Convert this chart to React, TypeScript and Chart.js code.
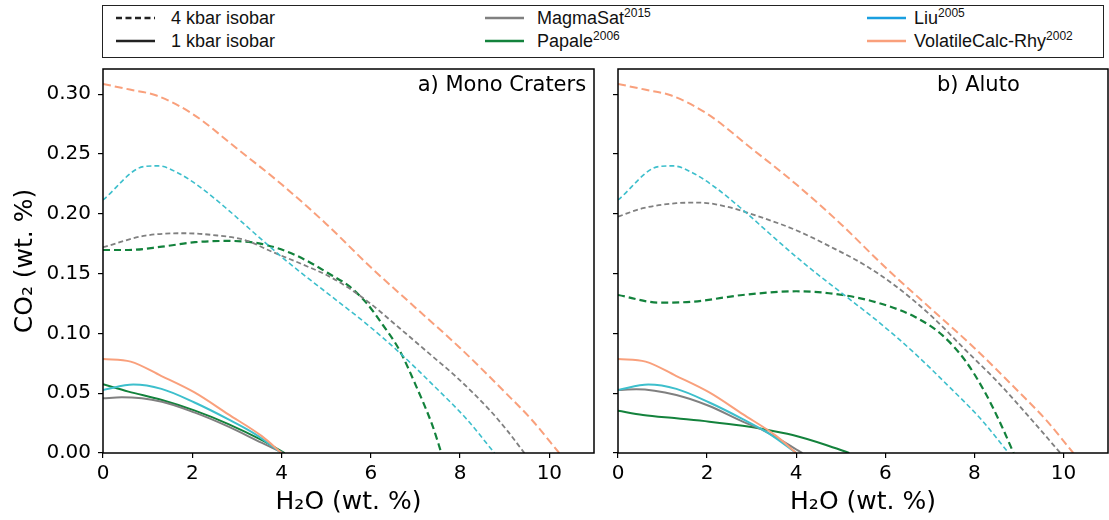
import React, { useEffect, useRef } from 'react';
import { Chart, registerables } from 'chart.js';

Chart.register(...registerables);

// Axis ticks
const h2oTicks = [0, 2, 4, 6, 8, 10];
const co2Ticks = [0, 0.05, 0.1, 0.15, 0.2, 0.25, 0.3];
const h2oMax = 11;
const co2Max = 0.321;

// VolatileCalc-Rhy (same isobars for both localities)
const vcH2O_4kbar = [0, 0.6, 1.2, 2.0, 3.0, 4.0, 5.0, 6.0, 7.0, 8.0, 9.0, 9.6, 10.22];
const vcCO2_4kbar = [0.3085, 0.3038, 0.2988, 0.2836, 0.2545, 0.2246, 0.1915, 0.1552, 0.1215, 0.0878, 0.051, 0.028, 0];
const vcH2O_1kbar = [0, 0.62, 1.3, 2.05, 2.8, 3.55, 4.0];
const vcCO2_1kbar = [0.0786, 0.0764, 0.0645, 0.0506, 0.0325, 0.0143, 0];

// Liu (same isobars for both localities)
const liuH2O_4kbar = [0, 0.91, 1.24, 1.69, 2.21, 2.81, 3.4, 4.0, 4.41, 5.15, 5.9, 6.64, 7.39, 8.13, 8.77];
const liuCO2_4kbar = [0.2115, 0.2394, 0.24, 0.2339, 0.2213, 0.203, 0.1835, 0.164, 0.1515, 0.13, 0.108, 0.084, 0.057, 0.029, 0];
const liuH2O_1kbar = [0, 0.68, 1.31, 2.05, 2.8, 3.4, 4.0];
const liuCO2_1kbar = [0.0527, 0.0572, 0.0536, 0.0422, 0.0283, 0.016, 0];

// Mono Craters: MagmaSat
const monoMsH2O_4kbar = [0, 0.95, 1.84, 2.44, 3.18, 3.78, 4.41, 5.15, 5.9, 6.64, 7.39, 7.91, 8.66, 9.05, 9.44];
const monoMsCO2_4kbar = [0.172, 0.1817, 0.1837, 0.1823, 0.178, 0.1683, 0.1586, 0.146, 0.1275, 0.1045, 0.0805, 0.0638, 0.036, 0.019, 0];
const monoMsH2O_1kbar = [0, 0.42, 1.32, 2.06, 2.81, 3.55, 4.04];
const monoMsCO2_1kbar = [0.0457, 0.0466, 0.0429, 0.0337, 0.022, 0.0086, 0];

// Mono Craters: Papale
const monoPapH2O_4kbar = [0, 0.57, 1.32, 2.06, 2.81, 3.55, 4.3, 5.15, 5.53, 5.9, 6.27, 6.64, 7.02, 7.39, 7.58];
const monoPapCO2_4kbar = [0.1697, 0.1697, 0.1725, 0.1762, 0.1773, 0.1748, 0.1656, 0.148, 0.139, 0.1255, 0.107, 0.0861, 0.0555, 0.022, 0];
const monoPapH2O_1kbar = [0, 0.57, 1.32, 2.06, 2.81, 3.55, 4.07];
const monoPapCO2_1kbar = [0.0574, 0.0513, 0.0443, 0.0354, 0.0242, 0.0109, 0];

// Aluto: MagmaSat
const alutoMsH2O_4kbar = [0, 0.56, 1.31, 1.83, 2.43, 3.17, 4.0, 4.9, 5.5, 6.2, 7.05, 7.8, 8.55, 9.29, 9.93];
const alutoMsCO2_4kbar = [0.1976, 0.2046, 0.2088, 0.2093, 0.206, 0.1976, 0.1862, 0.17, 0.158, 0.1405, 0.114, 0.0861, 0.0583, 0.0276, 0];
const alutoMsH2O_1kbar = [0, 0.41, 1.31, 2.05, 2.8, 3.25, 3.55, 4.14];
const alutoMsCO2_1kbar = [0.0527, 0.0532, 0.0485, 0.0393, 0.0262, 0.0192, 0.013, 0];

// Aluto: Papale
const alutoPapH2O_4kbar = [0, 0.93, 1.68, 2.8, 4.0, 5.04, 5.93, 6.68, 7.28, 7.8, 8.25, 8.62, 8.88];
const alutoPapCO2_4kbar = [0.1321, 0.1257, 0.1265, 0.1321, 0.1352, 0.1321, 0.1245, 0.1135, 0.0985, 0.077, 0.0499, 0.022, 0];
const alutoPapH2O_1kbar = [0, 0.56, 1.31, 2.05, 2.8, 3.25, 3.92, 4.67, 5.19];
const alutoPapCO2_1kbar = [0.0354, 0.0318, 0.029, 0.0262, 0.0228, 0.0201, 0.015, 0.0067, 0];

const COLORS = {
  magmasat: '#808080',
  papale: '#13823c',
  liu: '#3dbfcc',
  liuKey: '#1a9fe0',
  volatilecalc: '#f9a07c',
};

const pts = (xs: number[], ys: number[]) => xs.map((x, i) => ({ x, y: ys[i] }));

type Style = { color: string; width: number; dash: number[] };

const isobar = (xs: number[], ys: number[], s: Style) => ({
  data: pts(xs, ys),
  borderColor: s.color,
  borderWidth: s.width,
  borderDash: s.dash,
  pointRadius: 0,
  fill: false,
  cubicInterpolationMode: 'monotone' as const,
});

const styles = {
  ms4: { color: COLORS.magmasat, width: 1.8, dash: [5, 3] },
  pap4: { color: COLORS.papale, width: 2.2, dash: [7, 4] },
  liu4: { color: COLORS.liu, width: 1.6, dash: [5, 3] },
  vc4: { color: COLORS.volatilecalc, width: 2, dash: [8, 4] },
  ms1: { color: COLORS.magmasat, width: 2, dash: [] },
  pap1: { color: COLORS.papale, width: 2, dash: [] },
  liu1: { color: COLORS.liu, width: 2, dash: [] },
  vc1: { color: COLORS.volatilecalc, width: 2, dash: [] },
};

const monoDatasets = () => [
  isobar(vcH2O_4kbar, vcCO2_4kbar, styles.vc4),
  isobar(liuH2O_4kbar, liuCO2_4kbar, styles.liu4),
  isobar(monoMsH2O_4kbar, monoMsCO2_4kbar, styles.ms4),
  isobar(monoPapH2O_4kbar, monoPapCO2_4kbar, styles.pap4),
  isobar(vcH2O_1kbar, vcCO2_1kbar, styles.vc1),
  isobar(liuH2O_1kbar, liuCO2_1kbar, styles.liu1),
  isobar(monoMsH2O_1kbar, monoMsCO2_1kbar, styles.ms1),
  isobar(monoPapH2O_1kbar, monoPapCO2_1kbar, styles.pap1),
];

const alutoDatasets = () => [
  isobar(vcH2O_4kbar, vcCO2_4kbar, styles.vc4),
  isobar(liuH2O_4kbar, liuCO2_4kbar, styles.liu4),
  isobar(alutoMsH2O_4kbar, alutoMsCO2_4kbar, styles.ms4),
  isobar(alutoPapH2O_4kbar, alutoPapCO2_4kbar, styles.pap4),
  isobar(vcH2O_1kbar, vcCO2_1kbar, styles.vc1),
  isobar(liuH2O_1kbar, liuCO2_1kbar, styles.liu1),
  isobar(alutoMsH2O_1kbar, alutoMsCO2_1kbar, styles.ms1),
  isobar(alutoPapH2O_1kbar, alutoPapCO2_1kbar, styles.pap1),
];

// Draws the full box round the plot area and the panel caption.
const panelFrame = {
  id: 'panelFrame',
  afterDatasetsDraw(chart: any, _args: any, opts: any) {
    const { ctx, chartArea: a, scales } = chart;
    ctx.save();
    ctx.strokeStyle = '#000';
    ctx.lineWidth = 1.5;
    ctx.strokeRect(a.left, a.top, a.right - a.left, a.bottom - a.top);
    if (opts && opts.label) {
      ctx.fillStyle = '#000';
      ctx.font = '21px "DejaVu Sans"';
      ctx.textAlign = 'left';
      ctx.textBaseline = 'middle';
      ctx.fillText(opts.label, scales.x.getPixelForValue(opts.x), scales.y.getPixelForValue(opts.y));
    }
    ctx.restore();
  },
};

const tickFont = { family: 'DejaVu Sans', size: 20 };
const titleFont = { family: 'DejaVu Sans', size: 25 };

type PanelProps = {
  left: number;
  width: number;
  yAxisWidth: number;
  padRight: number;
  showY: boolean;
  label: string;
  labelX: number;
  labelY: number;
  datasets: () => any[];
};

function Panel(p: PanelProps) {
  const ref = useRef<HTMLCanvasElement | null>(null);
  useEffect(() => {
    if (!ref.current) return;
    const chart = new Chart(ref.current, {
      type: 'line',
      data: { datasets: p.datasets() },
      plugins: [panelFrame],
      options: {
        animation: false,
        responsive: false,
        parsing: false as any,
        layout: { padding: { top: 69, right: p.padRight, left: 0, bottom: 0 } },
        plugins: {
          legend: { display: false },
          tooltip: { enabled: false },
          panelFrame: { label: p.label, x: p.labelX, y: p.labelY },
        } as any,
        scales: {
          x: {
            type: 'linear',
            min: 0,
            max: h2oMax,
            afterBuildTicks: (s: any) => {
              s.ticks = h2oTicks.map((v) => ({ value: v }));
            },
            afterFit: (s: any) => {
              s.height = 67;
            },
            ticks: {
              font: tickFont,
              color: '#000',
              padding: 4,
              maxRotation: 0,
              callback: (v: any) => String(v),
            },
            grid: { display: true, drawOnChartArea: false, drawTicks: true, tickLength: 5, color: '#000', lineWidth: 1.2 },
            border: { display: false },
            title: {
              display: true,
              text: 'H₂O (wt. %)',
              font: titleFont,
              color: '#000',
              padding: { top: 0, bottom: 3 },
            },
          },
          y: {
            type: 'linear',
            min: 0,
            max: co2Max,
            afterBuildTicks: (s: any) => {
              s.ticks = co2Ticks.map((v) => ({ value: v }));
            },
            afterFit: (s: any) => {
              s.width = p.yAxisWidth;
            },
            ticks: {
              display: p.showY,
              font: tickFont,
              color: '#000',
              padding: 7,
              callback: (v: any) => Number(v).toFixed(2),
            },
            grid: { display: true, drawOnChartArea: false, drawTicks: true, tickLength: 5, color: '#000', lineWidth: 1.2 },
            border: { display: false },
            title: {
              display: p.showY,
              text: 'CO₂ (wt. %)',
              font: titleFont,
              color: '#000',
              padding: { top: 10, bottom: 0 },
            },
          },
        },
      } as any,
    });
    return () => chart.destroy();
  }, []);
  return (
    <canvas
      ref={ref}
      width={p.width}
      height={520}
      style={{ position: 'absolute', left: p.left, top: 0, width: p.width, height: 520, display: 'block' }}
    />
  );
}

type KeyItem = { text: string; sup?: string; color: string; dash?: string; x: number; textX: number; row: number };

const legendItems: KeyItem[] = [
  { text: '4 kbar isobar', color: '#222', dash: '6 3.5', x: 116, textX: 171, row: 0 },
  { text: '1 kbar isobar', color: '#222', x: 116, textX: 171, row: 1 },
  { text: 'MagmaSat', sup: '2015', color: COLORS.magmasat, x: 485, textX: 537, row: 0 },
  { text: 'Papale', sup: '2006', color: COLORS.papale, x: 485, textX: 537, row: 1 },
  { text: 'Liu', sup: '2005', color: COLORS.liuKey, x: 867, textX: 914, row: 0 },
  { text: 'VolatileCalc-Rhy', sup: '2002', color: COLORS.volatilecalc, x: 867, textX: 914, row: 1 },
];
const legendRowY = [17.5, 40.5];

function Legend() {
  return (
    <>
      <div
        style={{
          position: 'absolute',
          left: 102,
          top: 5,
          width: 1002,
          height: 53,
          border: '1px solid #222',
          boxSizing: 'border-box',
          background: '#fff',
        }}
      />
      {legendItems.map((it, i) => (
        <React.Fragment key={i}>
          <svg
            width={40}
            height={10}
            style={{ position: 'absolute', left: it.x, top: legendRowY[it.row] - 5 }}
          >
            <line
              x1={0}
              y1={5}
              x2={39}
              y2={5}
              stroke={it.color}
              strokeWidth={2.5}
              strokeDasharray={it.dash}
            />
          </svg>
          <div
            style={{
              position: 'absolute',
              left: it.textX,
              top: legendRowY[it.row] - 11,
              height: 22,
              lineHeight: '22px',
              fontFamily: '"Liberation Sans", Arial, sans-serif',
              fontSize: 18,
              color: '#111',
              whiteSpace: 'nowrap',
            }}
          >
            {it.text}
            {it.sup ? (
              <span style={{ fontSize: 12, position: 'relative', top: -7 }}>{it.sup}</span>
            ) : null}
          </div>
        </React.Fragment>
      ))}
    </>
  );
}

export default function App() {
  return (
    <div style={{ position: 'absolute', left: 0, top: 0, width: 1109, height: 520, background: '#fff', overflow: 'hidden' }}>
      <Panel
        left={0}
        width={600}
        yAxisWidth={103}
        padRight={6}
        showY={true}
        label="a) Mono Craters"
        labelX={7.05}
        labelY={0.307}
        datasets={monoDatasets}
      />
      <Panel
        left={600}
        width={509}
        yAxisWidth={18}
        padRight={1}
        showY={false}
        label="b) Aluto"
        labelX={7.16}
        labelY={0.307}
        datasets={alutoDatasets}
      />
      <Legend />
    </div>
  );
}
